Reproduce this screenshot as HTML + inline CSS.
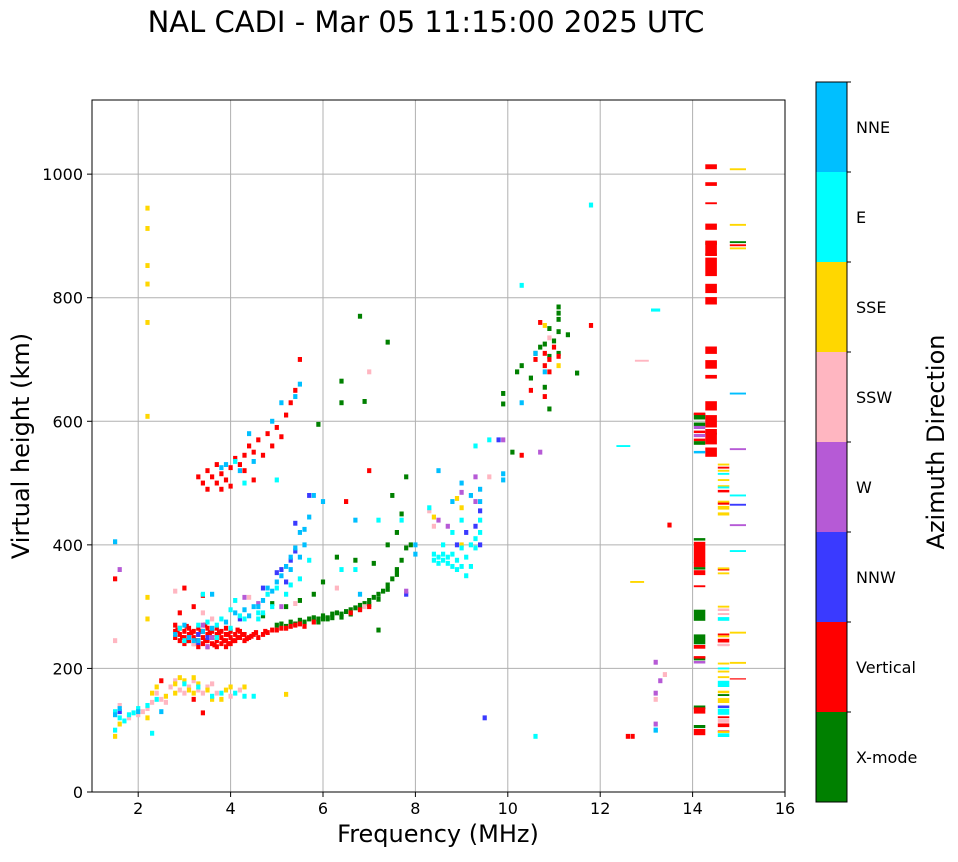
<!DOCTYPE html>
<html><head><meta charset="utf-8"><style>
body{margin:0;background:#fff;}
svg text{font-family:"DejaVu Sans","Liberation Sans",sans-serif;}
</style></head><body>
<svg id="chart" width="958" height="857" xmlns="http://www.w3.org/2000/svg">
<text x="426" y="32" font-size="29" text-anchor="middle">NAL CADI - Mar 05 11:15:00 2025 UTC</text>
<g id="grid"></g>
<g id="cells"></g>
<rect x="92" y="100" width="693" height="692" fill="none" stroke="#000" stroke-width="1"/>
<g id="axes"></g>
<text x="438" y="842" font-size="24" text-anchor="middle">Frequency (MHz)</text>
<text transform="translate(29,446) rotate(-90)" font-size="24" text-anchor="middle">Virtual height (km)</text>
<g id="cbar"></g>
<text transform="translate(944,442) rotate(-90)" font-size="24" text-anchor="middle">Azimuth Direction</text>
</svg>
<script>
const directions = ["X-mode","Vertical","NNW","W","SSW","SSE","E","NNE"];
const dirColors = ["#008000","#ff0000","#3a3aff","#b65ad6","#ffb6c1","#ffd700","#00ffff","#00bfff"];
const xTicks = [2,4,6,8,10,12,14,16];
const yTicks = [0,200,400,600,800,1000];
const xmode = [[5.0,270],[5.1,272],[5.2,268],[5.3,275],[5.4,272],[5.5,278],[5.6,275],[5.7,280],[5.8,282],[5.9,280],[6.0,285],[6.1,282],[6.2,288],[6.3,290],[6.4,288],[6.5,292],[6.6,295],[6.7,298],[6.8,302],[6.9,305],[7.0,310],[7.1,315],[7.2,320],[7.3,325],[7.4,335],[7.5,345],[7.6,360],[7.7,375],[7.8,395],[7.9,400],[6.1,280],[5.9,275],[6.0,280],[6.2,282],[6.4,283],[6.6,288],[6.8,296],[7.0,303],[7.2,312],[7.4,328],[7.6,352],[4.7,285],[4.9,305],[5.2,300],[5.5,310],[5.8,320],[6.0,340],[6.3,380],[6.7,375],[7.1,370],[7.4,400],[7.7,450],[7.8,510],[7.5,480],[7.6,420],[6.8,770],[7.4,728],[6.4,665],[6.4,630],[6.9,632],[5.9,595],[9.9,628],[9.9,645],[10.2,680],[10.3,690],[10.5,670],[10.6,710],[10.7,720],[10.9,750],[11.0,730],[11.1,785],[11.1,775],[11.1,765],[11.1,745],[11.3,740],[11.5,678],[10.9,620],[10.1,550],[10.9,705],[10.8,725],[10.8,655],[11.1,710],[7.2,262],
[14.15,608,0.25,10],[14.15,595,0.25,6],[14.15,565,0.25,6],[14.15,409,0.25,4],[14.15,362,0.25,4],[14.15,286,0.25,18],[14.15,247,0.25,16],[14.15,216,0.25,6],[14.15,137,0.25,6],[14.15,106,0.25,5],[14.4,888,0.25,5],[14.4,870,0.25,3],[14.4,580,0.25,3],[14.67,157,0.25,3],[14.98,890,0.35,3]];
const vertical = [[2.8,270],[2.8,260],[2.8,250],[2.9,265],[2.9,255],[2.9,245],[3.0,260],[3.0,250],[3.0,240],[3.1,265],[3.1,255],[3.1,245],[3.2,260],[3.2,250],[3.2,240],[3.3,265],[3.3,255],[3.3,245],[3.3,235],[3.4,260],[3.4,250],[3.4,240],[3.5,265],[3.5,255],[3.5,245],[3.5,235],[3.6,260],[3.6,250],[3.6,240],[3.7,265],[3.7,255],[3.7,245],[3.7,235],[3.8,260],[3.8,250],[3.8,240],[3.9,265],[3.9,255],[3.9,245],[3.9,235],[4.0,260],[4.0,250],[4.0,240],[4.1,255],[4.1,245],[4.2,260],[4.2,250],[4.3,255],[4.3,245],[4.4,250],[4.5,255],[4.6,250],[4.7,255],[4.8,258],[4.9,262],[5.0,262],[5.2,265],[5.4,270],[5.6,268],[5.8,275],[6.6,290],[6.8,295],[7.0,300],
[2.85,262],[2.95,250],[3.05,268],[3.05,245],[3.15,258],[3.25,245],[3.35,260],[3.45,245],[3.55,258],[3.65,238],[3.75,258],[3.85,245],[3.95,255],[4.05,245],[4.15,250],[4.25,255],[4.35,248],[4.45,252],[4.15,262],[3.95,240],[3.45,270],[4.55,258],[4.75,260],[5.1,265],[5.3,268],[5.5,272],
[3.3,510],[3.4,500],[3.5,520],[3.5,490],[3.6,510],[3.7,530],[3.7,500],[3.8,515],[3.8,490],[3.9,505],[4.0,525],[4.0,495],[4.1,540],[4.2,530],[4.3,545],[4.3,520],[4.4,560],[4.5,550],[4.6,570],[4.7,545],[4.8,580],[4.9,560],[5.0,590],[5.1,575],[5.2,610],[5.3,630],[5.4,650],[5.5,700],[4.5,505],[3.2,300],[3.0,330],[2.9,290],[3.4,318],
[1.5,345],[2.5,180],[3.2,150],[3.4,128],[10.3,545],[10.7,760],[10.6,700],[10.8,710],[10.8,690],[10.9,700],[10.9,680],[11.0,720],[10.8,640],[10.5,650],[11.1,705],[11.8,755],[12.6,90],[12.7,90],[13.5,432],[7.0,520],[6.5,470],
[14.4,1012,0.25,8],[14.4,984,0.25,6],[14.4,953,0.25,3],[14.4,915,0.25,10],[14.4,880,0.25,25],[14.4,850,0.25,30],[14.4,815,0.25,15],[14.4,795,0.25,12],[14.4,715,0.25,12],[14.4,692,0.25,14],[14.4,672,0.25,6],[14.4,625,0.25,15],[14.4,600,0.25,20],[14.4,575,0.25,25],[14.4,550,0.25,15],
[14.15,612,0.25,4],[14.15,583,0.25,4],[14.15,570,0.25,4],[14.15,388,0.25,34],[14.15,368,0.25,8],[14.15,355,0.25,8],[14.15,333,0.25,3],[14.15,235,0.25,6],[14.15,218,0.25,4],[14.15,132,0.25,10],[14.15,97,0.25,10],
[14.67,525,0.25,3],[14.67,487,0.25,4],[14.67,467,0.25,4],[14.67,360,0.25,3],[14.67,255,0.25,3],[14.67,245,0.25,6],[14.67,238,0.25,3],[14.67,121,0.25,3],[14.67,108,0.25,6],[14.67,98,0.25,3],[14.98,885,0.35,3],[14.98,183,0.35,2]];
const nnw = [[1.6,130],[3.3,255],[3.5,250],[3.3,242],[5.1,360],[5.4,390],[5.3,375],[5.0,355],[5.4,435],[5.7,480],[4.7,330],[5.2,340],[8.9,400],[9.1,420],[9.3,430],[9.4,455],[9.4,400],[9.8,570],[7.8,320],[9.5,120],[4.2,280],[14.67,138,0.25,4],[14.98,465,0.35,3]];
const west = [[1.6,360],[3.1,250],[3.5,235],[3.4,270],[3.6,250],[4.3,315],[4.6,305],[5.1,300],[8.5,440],[8.7,430],[9.0,485],[9.3,470],[9.3,510],[9.9,570],[10.7,550],[13.2,210],[13.2,160],[13.2,110],[13.3,180],[7.8,325],[14.15,590,0.25,5],[14.15,577,0.25,5],[14.15,210,0.25,4],[14.98,555,0.35,3],[14.98,432,0.35,3]];
const ssw = [[1.5,245],[1.6,140],[1.8,120],[2.0,125],[2.1,130],[2.2,135],[2.3,145],[2.4,160],[2.5,150],[2.6,145],[2.7,170],[2.8,180],[2.9,165],[3.0,160],[3.1,170],[3.2,180],[3.3,165],[3.4,160],[3.5,170],[3.6,175],[3.7,160],[4.0,155],[4.2,165],[2.8,325],[3.4,290],[3.6,280],[4.4,315],[4.8,320],[5.4,305],[6.3,330],[6.9,300],[7.0,680],[8.3,455],[8.4,430],[9.6,510],[10.9,735],[12.9,698,0.3,3],[13.4,190],[13.2,150],[2.9,265],[3.2,240],[14.67,295,0.25,4],[14.67,288,0.25,3],[14.67,238,0.25,4],[14.67,115,0.25,6]];
const sse = [[2.2,945],[2.2,912],[2.2,852],[2.2,822],[2.2,760],[2.2,608],[2.2,315],[2.2,280],[1.5,90],[1.6,110],[2.2,120],[2.3,160],[2.4,170],[2.6,155],[2.8,175],[2.9,185],[3.0,180],[3.1,165],[3.2,160],[3.3,175],[3.5,165],[3.6,150],[3.8,150],[3.9,165],[4.0,170],[4.3,170],[5.2,158],[8.4,445],[8.9,475],[9.0,460],[9.0,400],[10.8,755],[11.1,690],[12.8,340,0.3,3],[3.2,185],[2.8,160],
[14.67,530,0.25,3],[14.67,520,0.25,3],[14.67,505,0.25,3],[14.67,495,0.25,3],[14.67,470,0.25,3],[14.67,460,0.25,6],[14.67,450,0.25,5],[14.67,362,0.25,3],[14.67,354,0.25,3],[14.67,300,0.25,3],[14.67,252,0.25,3],[14.67,208,0.25,3],[14.67,195,0.25,3],[14.67,186,0.25,3],[14.67,162,0.25,4],[14.67,148,0.25,8],[14.67,97,0.25,3],[14.98,1008,0.35,3],[14.98,918,0.35,3],[14.98,880,0.35,3],[14.98,258,0.35,3],[14.98,209,0.35,3]];
const east = [[1.5,130],[1.5,100],[1.6,120],[1.7,115],[1.8,125],[1.9,128],[2.0,135],[2.3,95],[2.4,150],[2.2,140],[3.0,175],[3.3,170],[3.6,155],[3.8,160],[4.1,160],[4.3,155],[4.5,155],[2.9,265],[3.0,245],[3.3,270],[3.5,275],[3.7,250],[4.0,265],[4.2,285],[4.3,280],[4.6,290],[4.9,300],[5.2,320],[5.5,345],[5.7,375],[5.0,330],[5.3,335],[4.8,320],[3.4,320],[3.7,270],[4.0,295],[4.1,310],[4.6,280],[6.4,360],[6.7,360],[7.2,440],[7.7,440],[5.0,505],[4.1,535],[4.3,500],[3.8,280],[4.7,290],
[8.4,385],[8.4,375],[8.5,380],[8.5,370],[8.6,385],[8.6,375],[8.7,380],[8.7,370],[8.8,385],[8.8,365],[8.9,375],[8.9,360],[9.0,395],[9.0,365],[9.1,380],[9.2,400],[9.2,365],[9.3,395],[9.3,410],[9.4,420],[9.4,440],[8.3,460],[8.6,400],[8.8,420],[9.0,440],[9.6,570],[9.3,560],[10.3,820],[10.6,90],[11.8,950],[12.5,560,0.3,3],[13.2,780,0.2,5],[13.2,100],[9.1,350],
[14.67,515,0.25,3],[14.67,493,0.25,3],[14.67,280,0.25,6],[14.67,200,0.25,3],[14.67,175,0.25,10],[14.67,130,0.25,10],[14.67,92,0.25,6],[14.98,480,0.35,3],[14.98,390,0.35,3]];
const nne = [[1.5,405],[1.5,125],[1.6,135],[2.5,130],[2.8,255],[3.0,270],[3.1,250],[3.2,245],[3.4,260],[3.6,265],[3.9,275],[4.1,290],[4.3,295],[4.4,285],[4.5,300],[4.7,310],[4.8,330],[5.0,340],[5.1,350],[5.2,365],[5.3,380],[5.4,395],[5.5,420],[5.6,425],[5.7,445],[5.8,480],[5.6,400],[5.5,380],[5.3,360],[4.9,325],[4.6,300],[3.8,525],[3.9,530],[4.2,520],[4.5,535],[4.4,580],[4.9,600],[5.4,640],[5.5,660],[5.1,630],[6.0,470],[6.7,440],[8.8,470],[8.5,520],[9.2,480],[9.4,470],[9.4,490],[9.0,500],[9.9,515],[9.9,505],[10.3,630],[10.6,710],[10.8,680],[3.3,245],[2.0,130],[6.8,320],[8.0,400],[8.0,385],[13.2,100],[3.6,320],[14.15,550,0.25,4],[14.98,645,0.35,3]];
const series = [xmode, vertical, nnw, west, ssw, sse, east, nne];

const NS="http://www.w3.org/2000/svg";
const L=92,R=785,T=100,B=792,XMIN=1,XMAX=16,YMIN=0,YMAX=1120;
function xs(f){return L+(f-XMIN)/(XMAX-XMIN)*(R-L);}
function ys(h){return B-(h-YMIN)/(YMAX-YMIN)*(B-T);}
function mk(tag,attrs,parent){const e=document.createElementNS(NS,tag);for(const k in attrs)e.setAttribute(k,attrs[k]);parent.appendChild(e);return e;}

const grid=document.getElementById('grid'),axes=document.getElementById('axes');
xTicks.forEach(v=>{
  const x=xs(v);
  const gl=mk('line',{x1:x,x2:x,y1:T,y2:B,stroke:'#b0b0b0','stroke-width':1},grid);
  
  
  const tk=mk('line',{x1:x,x2:x,y1:B,y2:B+5,stroke:'#000'},axes);
  
  
  const t=mk('text',{x:x,y:B+22,'font-size':16,'text-anchor':'middle'},axes);
  t.textContent=v;
  
  
});
yTicks.forEach(v=>{
  const y=ys(v);
  const gl=mk('line',{x1:L,x2:R,y1:y,y2:y,stroke:'#b0b0b0','stroke-width':1},grid);
  
  
  const tk=mk('line',{x1:L-5,x2:L,y1:y,y2:y,stroke:'#000'},axes);
  
  
  const t=mk('text',{x:L-9,y:y+6,'font-size':16,'text-anchor':'end'},axes);
  t.textContent=v;
  
  
});

const cells=document.getElementById('cells');
series.forEach((arr,i)=>{
  arr.forEach(p=>{
    const w=p[2]||0.09, hh=p[3]||8;
    const x0=xs(p[0]-w/2), x1=xs(p[0]+w/2), y0=ys(p[1]+hh/2), y1=ys(p[1]-hh/2);
    const r=mk('rect',{x:x0.toFixed(1),y:y0.toFixed(1),width:(x1-x0).toFixed(1),height:(y1-y0).toFixed(1),fill:dirColors[i]},cells);
    
    
  });
});

const cb=document.getElementById('cbar');
const CX=816,CW=31,CT=82,CB=802,seg=(CB-CT)/directions.length;
directions.forEach((d,i)=>{
  const y=CB-(i+1)*seg;
  const r=mk('rect',{x:CX,y:y,width:CW,height:seg,fill:dirColors[i]},cb);
  
  
  const t=mk('text',{x:CX+CW+9,y:y+seg/2+6,'font-size':16},cb);
  t.textContent=d;
  
  
  const tk=mk('line',{x1:CX+CW,x2:CX+CW+4,y1:y,y2:y,stroke:'#000'},cb);
  
  
});
const cbf=mk('rect',{x:CX,y:CT,width:CW,height:CB-CT,fill:'none',stroke:'#000'},cb);


</script>
</body></html>
